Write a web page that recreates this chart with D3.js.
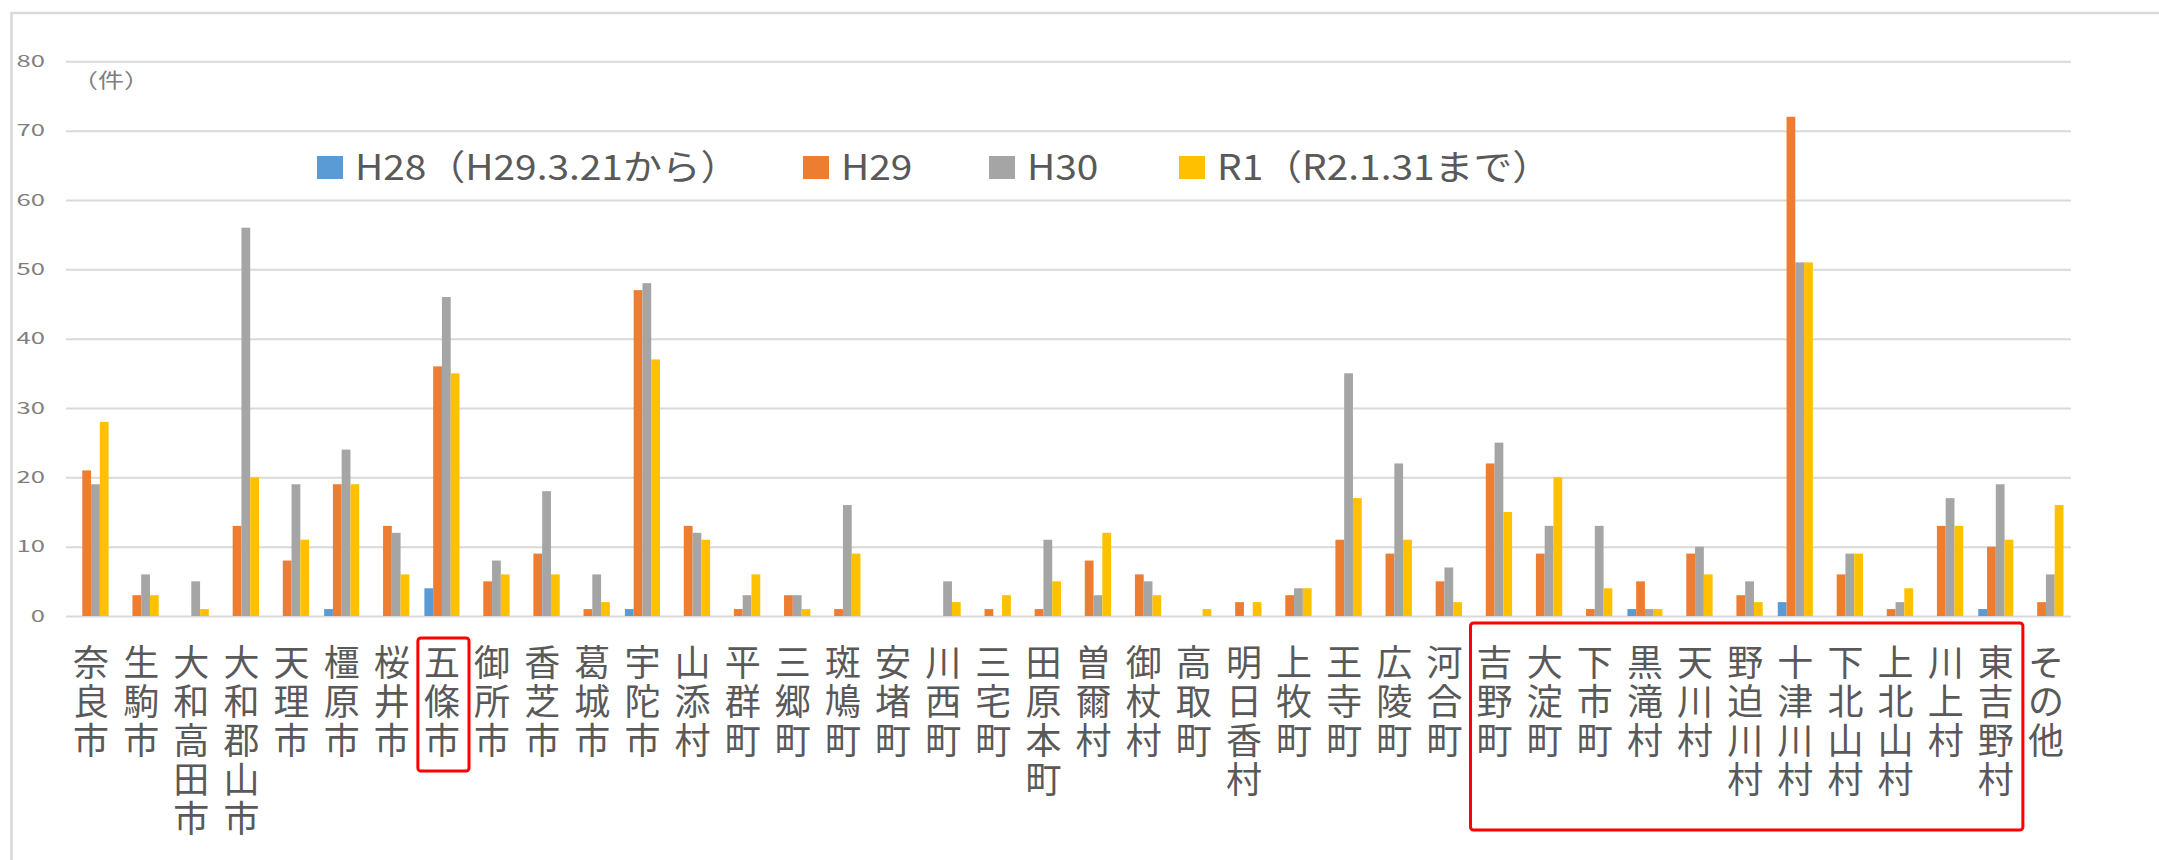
<!DOCTYPE html>
<html>
<head>
<meta charset="utf-8">
<script src="https://cdn.jsdelivr.net/npm/d3@7"></script>
<style>
  body { margin: 0; background: #fff; }
  text { font-family: "Noto Sans CJK JP", "Noto Sans", sans-serif; }
</style>
</head>
<body>
<div id="chart"></div>
<script>
// categories (municipalities)
var categories = ['奈良市','生駒市','大和高田市','大和郡山市','天理市','橿原市','桜井市','五條市','御所市','香芝市',
  '葛城市','宇陀市','山添村','平群町','三郷町','斑鳩町','安堵町','川西町','三宅町','田原本町',
  '曽爾村','御杖村','高取町','明日香村','上牧町','王寺町','広陵町','河合町','吉野町','大淀町',
  '下市町','黒滝村','天川村','野迫川村','十津川村','下北山村','上北山村','川上村','東吉野村','その他'];

var seriesNames = ['H28（H29.3.21から）','H29','H30','R1（R2.1.31まで）'];

var h28 = [0,0,0,0,0,1,0,4,0,0, 0,1,0,0,0,0,0,0,0,0, 0,0,0,0,0,0,0,0,0,0, 0,1,0,0,2,0,0,0,1,0];
var h29 = [21,3,0,13,8,19,13,36,5,9, 1,47,13,1,3,1,0,0,1,1, 8,6,0,2,3,11,9,5,22,9, 1,5,9,3,72,6,1,13,10,2];
var h30 = [19,6,5,56,19,24,12,46,8,18, 6,48,12,3,3,16,0,5,0,11, 3,5,0,0,4,35,22,7,25,13, 13,1,10,5,51,9,2,17,19,6];
var r1  = [28,3,1,20,11,19,6,35,6,6, 2,37,11,6,1,9,0,2,3,5, 12,3,1,2,4,17,11,2,15,20, 4,1,6,2,51,9,4,13,11,16];

var yTicks = [0,10,20,30,40,50,60,70,80];

// boxes drawn around these groups
var highlight1 = ['五條市'];
var highlight2 = ['吉野町','大淀町','下市町','黒滝村','天川村','野迫川村','十津川村','下北山村','上北山村','川上村','東吉野村'];

var colors = ['#5B9BD5','#ED7D31','#A5A5A5','#FFC000'];

// MAIN
var width  = 2159;
var height = 860;
var plot   = { left: 66, right: 2071, top: 61.3, bottom: 616 };
var textColor = '#595959';

var svg = d3.select('#chart').append('svg')
  .attr('width', width)
  .attr('height', height);

// outer frame (only left and top edges show)
svg.append('path')
  .attr('d', 'M11.5,860 L11.5,13 L2159,13')
  .attr('fill', 'none')
  .attr('stroke', '#d9d9d9')
  .attr('stroke-width', 2.5);

var yScale = d3.scaleLinear()
  .domain([0, 80])
  .range([plot.bottom, plot.top]);

var xScale = d3.scaleBand()
  .domain(categories)
  .range([plot.left, plot.right])
  .paddingInner(0.3)
  .paddingOuter(0.15);

var xSub = d3.scaleBand()
  .domain(d3.range(seriesNames.length))
  .range([0, xScale.bandwidth()]);

// gridlines + tick labels
var yAxis = d3.axisLeft(yScale)
  .tickValues(yTicks)
  .tickSize(-(plot.right - plot.left))
  .tickFormat(d3.format('d'));

var yGuide = svg.append('g')
  .attr('transform', 'translate(' + plot.left + ',0)')
  .call(yAxis);
yGuide.select('.domain').remove();
yGuide.selectAll('line')
  .attr('stroke', '#d9d9d9')
  .attr('stroke-width', 2);
yGuide.selectAll('text')
  .attr('x', 0)
  .attr('transform', 'translate(-21,0) scale(1.6,1)')
  .style('font-size', '16px')
  .style('text-anchor', 'end')
  .attr('fill', '#7f7f7f');

// unit label
svg.append('text')
  .attr('transform', 'translate(72,88) scale(1.3,1)')
  .style('font-size', '20px')
  .attr('fill', '#7f7f7f')
  .text('（件）');

// bars
var allSeries = [h28, h29, h30, r1];
allSeries.forEach(function(vals, s) {
  svg.append('g').selectAll('rect')
    .data(vals)
    .enter().append('rect')
      .attr('fill', colors[s])
      .attr('x', function(d, i) { return xScale(categories[i]) + xSub(s); })
      .attr('width', xSub.bandwidth())
      .attr('y', function(d) { return yScale(d); })
      .attr('height', function(d) { return yScale(0) - yScale(d); });
});

// category labels, one character per line
var labels = svg.append('g').selectAll('text')
  .data(categories)
  .enter().append('text')
    .attr('fill', textColor)
    .style('font-size', '36px')
    .style('text-anchor', 'middle');
labels.each(function(name) {
  var cx = xScale(name) + xScale.bandwidth() / 2;
  var t = d3.select(this);
  Array.from(name).forEach(function(ch, i) {
    t.append('tspan')
      .attr('x', cx)
      .attr('y', 676 + i * 39)
      .text(ch);
  });
});

// red highlight boxes
function boxFor(names, y0, y1) {
  var step = xScale.step();
  var x0 = xScale(names[0]) - step * xScale.paddingOuter();
  var x1 = xScale(names[names.length - 1]) + xScale.bandwidth() + step * xScale.paddingOuter();
  svg.append('rect')
    .attr('x', x0 + 1)
    .attr('y', y0)
    .attr('width', x1 - x0 + 1)
    .attr('height', y1 - y0)
    .attr('rx', 3)
    .attr('fill', 'none')
    .attr('stroke', '#FF0000')
    .attr('stroke-width', 3);
}
boxFor(highlight1, 638, 771);
boxFor(highlight2, 623, 830);

// legend
var legendX = [317, 803, 989, 1179];
var legend = svg.append('g').selectAll('g')
  .data(seriesNames)
  .enter().append('g')
    .attr('transform', function(d, i) { return 'translate(' + legendX[i] + ',0)'; });
legend.append('rect')
  .attr('x', 0)
  .attr('y', 156)
  .attr('width', 26)
  .attr('height', 23)
  .attr('fill', function(d, i) { return colors[i]; });
legend.append('text')
  .attr('transform', 'translate(38,180) scale(1.11,1)')
  .style('font-size', '35px')
  .attr('fill', textColor)
  .text(function(d) { return d; });
</script>
</body>
</html>
